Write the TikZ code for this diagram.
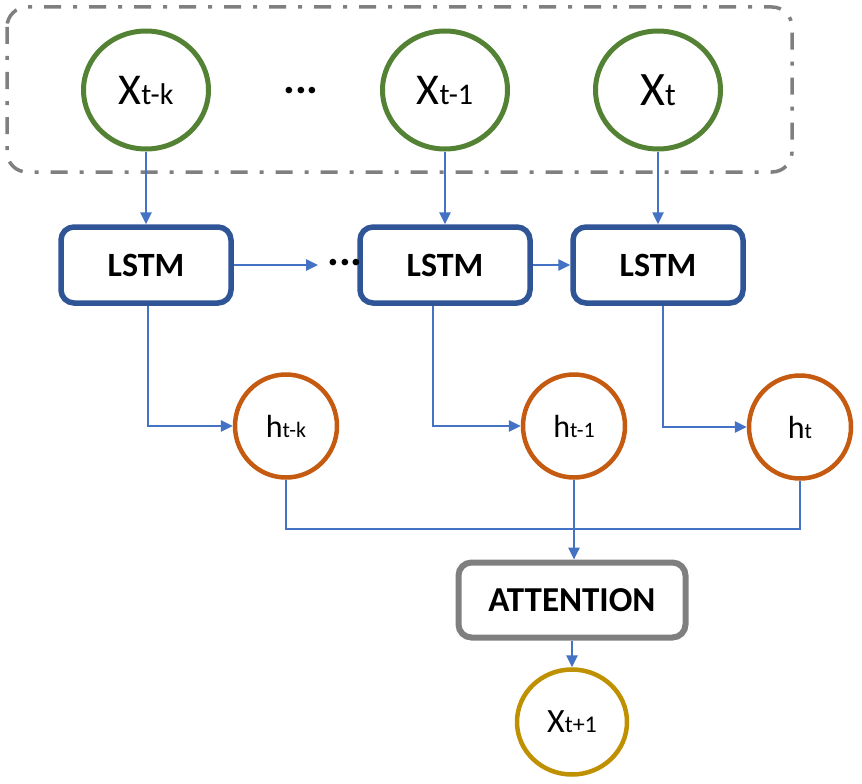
\documentclass[tikz,border=0pt]{standalone}
\usepackage{fontspec}
\setmainfont{Carlito}
\usetikzlibrary{arrows.meta,shapes.geometric}
\definecolor{xgreen}{HTML}{548235}
\definecolor{lstmblue}{HTML}{2F5597}
\definecolor{arrblue}{HTML}{4472C4}
\definecolor{horange}{HTML}{C55A11}
\definecolor{ygold}{HTML}{BF9000}
\definecolor{boxgray}{HTML}{7F7F7F}
\newcommand{\fsz}[2]{{\fontsize{#1}{#1}\selectfont #2}}
\begin{document}
\begin{tikzpicture}[x=1pt,y=1pt,
    xnode/.style={ellipse, draw=xgreen, line width=5pt, minimum width=125pt, minimum height=118pt, inner sep=0pt},
    hnode/.style={ellipse, draw=horange, line width=4.5pt, minimum width=102pt, minimum height=103pt, inner sep=0pt},
    ynode/.style={ellipse, draw=ygold, line width=4.5pt, minimum width=110pt, minimum height=105pt, inner sep=0pt},
    lstmbox/.style={draw=lstmblue, line width=5.5pt, rounded corners=13pt, minimum width=170pt, minimum height=76pt, font=\bfseries\fontsize{34}{34}\selectfont},
    attbox/.style={draw=boxgray, line width=6pt, rounded corners=13pt, minimum width=227pt, minimum height=75pt, font=\bfseries\fontsize{35}{35}\selectfont},
    dots/.style={font=\bfseries\fontsize{44}{44}\selectfont, inner sep=0pt},
    conn/.style={draw=arrblue, line width=2.5pt},
    arr/.style={conn, -{Triangle[length=12pt,width=11pt]}}]
    \useasboundingbox (0,0) rectangle (862,-784);
    \draw[boxgray, line width=3.5pt, rounded corners=20pt, dash pattern=on 17pt off 12pt on 4pt off 12pt] (7,-7) rectangle (792,-172);

    \node[xnode] (xtk) at (146,-90) {\fsz{44}{X}\fsz{30}{t-k}};
    \node[xnode] (xtm) at (445,-90) {\fsz{44}{X}\fsz{30}{t-1}};
    \node[xnode] (xt) at (658,-90) {\fsz{48}{X}\fsz{32}{t}};
    \node[dots] (topdots) at (301,-91) {...};

    \node[lstmbox] (lstma) at (146,-265) {LSTM};
    \node[lstmbox] (lstmb) at (445,-265) {LSTM};
    \node[lstmbox] (lstmc) at (658,-265) {LSTM};
    \node[dots] (middots) at (345,-263) {...};

    \node[hnode] (htk) at (286,-426) {\fsz{32}{h}\fsz{22}{t-k}};
    \node[hnode] (htm) at (574,-426) {\fsz{32}{h}\fsz{22}{t-1}};
    \node[hnode] (ht) at (800,-427) {\fsz{32}{h}\fsz{22}{t}};

    \node[attbox] (att) at (572,-600) {ATTENTION};
    \node[ynode] (xnext) at (572,-722) {\fsz{34}{X}\fsz{24}{t+1}};
    \coordinate (bus) at (0,-529);

    \draw[arr] (xtk) -- (lstma);
    \draw[arr] (xtm) -- (lstmb);
    \draw[arr] (xt) -- (lstmc);
    \draw[arr] (lstma.east) -- ([xshift=-9pt]lstma.east -| middots.west);
    \draw[arr] (lstmb) -- (lstmc);

    \draw[arr] ([xshift=2pt]lstma.south) |- (htk);
    \draw[arr] ([xshift=-12pt]lstmb.south) |- (htm);
    \draw[arr] ([xshift=5pt]lstmc.south) |- (ht);

    \draw[conn] (htk.south) |- (bus -| ht) -- (ht.south);
    \draw[arr] (htm.south) -- (htm.south |- att.north);
    \draw[arr] (att) -- (xnext);
\end{tikzpicture}
\end{document}
